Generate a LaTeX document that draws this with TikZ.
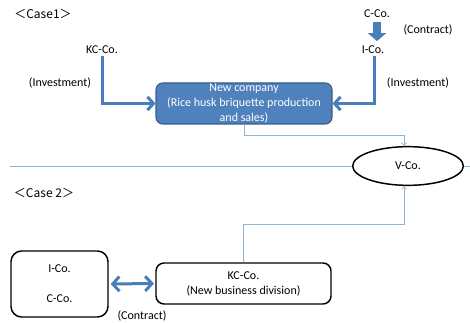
\documentclass[tikz,border=0pt]{standalone}
\usepackage{fontspec}
\setmainfont{Carlito}
\newfontfamily\cjk{Noto Sans CJK JP}
\usetikzlibrary{arrows.meta,shapes.geometric,calc}
\definecolor{accent}{HTML}{4A7EBB}
\definecolor{boxfill}{HTML}{4F81BD}
\definecolor{boxline}{HTML}{385D8A}
\definecolor{thinline}{HTML}{95B3D7}
\begin{document}
\begin{tikzpicture}[x=0.75pt,y=-0.75pt,
  font=\fontsize{9}{11.25}\selectfont,
  lbl/.style={inner sep=1pt},
  thickarrow/.style={draw=accent, line width=2.25pt, -{Straight Barb[length=4.5pt,width=10pt]}},
  thinarrow/.style={draw=thinline, line width=0.6pt, -{Straight Barb[length=2pt,width=4pt]}},
  rbox/.style={draw=black, line width=1.1pt, rounded corners=6pt, fill=white, inner sep=0pt, align=center}]
\useasboundingbox (0,0) rectangle (470,323);

% separator
\draw[thinline, line width=0.5pt] (10,166) -- (470,166);

% Case 1
\node[lbl] (case1) at (43,14) {\cjk{＜}Case1\cjk{＞}};
\node[lbl] (kc) at (102,50) {KC-Co.};
\node[lbl] (inv1) at (60,83) {(Investment)};
\node[lbl] (cco) at (377,14) {C-Co.};
\node[lbl] (ico) at (373,50) {I-Co.};
\node[lbl] (contr1) at (428,30) {(Contract)};
\node[lbl] (inv2) at (418,83) {(Investment)};
\node[draw=boxline, fill=boxfill, line width=0.8pt, rounded corners=5pt,
      minimum width=132pt, minimum height=30.75pt, inner sep=0pt,
      text=white, align=center] (newco) at (244,103.5)
      {New company\\(Rice husk briquette production\\and sales)};

\draw[thickarrow] (kc.south) |- (newco.west);
\draw[thickarrow] (ico.south -| 374,0) |- (newco.east);
\draw[draw=accent, line width=6pt, -{Triangle[length=6pt,width=13.5pt]}]
  ([yshift=-1.5pt]cco.south) -- ([yshift=2.5pt]cco.south |- ico.north);

% V-Co
\node[ellipse, draw=black, line width=1.1pt, fill=white, minimum width=83pt,
      minimum height=29pt, inner sep=0pt] (vco) at (408,166) {V-Co.};
\coordinate (vtop) at ([xshift=-3pt]vco.north);
\coordinate (vbot) at ([xshift=-3pt]vco.south);
\draw[thinarrow] (newco.south) |- ($(vtop)+(0,-11)$) -- (vtop);

% Case 2
\node[lbl] (case2) at (44,193) {\cjk{＜}Case 2\cjk{＞}};
\node[rbox, rounded corners=8pt, minimum width=72.75pt, minimum height=49.5pt] (left) at (59.5,284)
      {I-Co.\\[11.25pt]C-Co.};
\node[rbox, minimum width=131.25pt, minimum height=30.75pt] (kcb) at (243.5,283.5)
      {KC-Co.\\(New business division)};
\draw[draw=accent, line width=2.25pt,
      {Straight Barb[length=5pt,width=11pt]}-{Straight Barb[length=5pt,width=11pt]},
      shorten <=1.5pt, shorten >=1pt] (left.east) -- (kcb.west);
\node[lbl] (contr2) at (142,316) {(Contract)};
\draw[thinarrow] (kcb.north) |- ($(vbot)+(0,38)$) -- (vbot);
\end{tikzpicture}
\end{document}
